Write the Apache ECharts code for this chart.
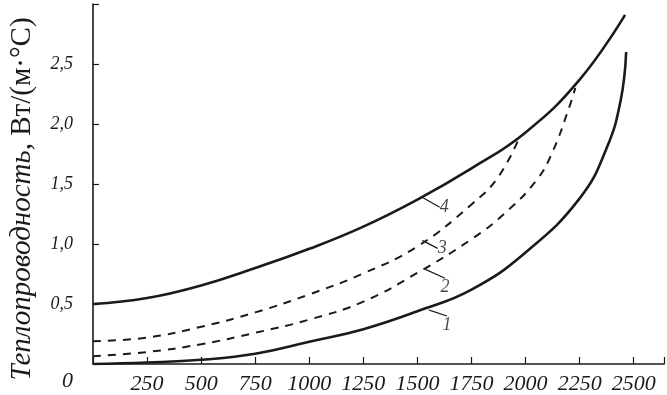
<!DOCTYPE html>
<html>
<head>
<meta charset="utf-8">
<script src="https://cdn.jsdelivr.net/npm/echarts@6/dist/echarts.min.js"></script>
<style>
  html, body { margin: 0; padding: 0; background: #fff; }
  #chart { width: 667px; height: 395px; }
</style>
</head>
<body>
<div id="chart"></div>
<script>
// температура, °C и теплопроводность, Вт/(м·°С) для кривых 1-4
var temp1 = [0, 250, 500, 750, 1000, 1250, 1500, 1750, 2000, 2250, 2375, 2440, 2465];
var cond1 = [0.0, 0.012, 0.035, 0.085, 0.185, 0.29, 0.44, 0.62, 0.93, 1.38, 1.80, 2.20, 2.60];

var temp2 = [0, 250, 500, 750, 1000, 1250, 1500, 1750, 1900, 2050, 2125, 2200, 2230];
var cond2 = [0.065, 0.10, 0.165, 0.26, 0.37, 0.52, 0.76, 1.04, 1.25, 1.53, 1.77, 2.13, 2.30];

var temp3 = [0, 250, 500, 750, 1000, 1250, 1500, 1750, 1870, 1967];
var cond3 = [0.19, 0.22, 0.31, 0.43, 0.58, 0.755, 0.98, 1.33, 1.55, 1.87];

var temp4 = [0, 250, 500, 750, 1000, 1250, 1500, 1750, 2000, 2250, 2460];
var cond4 = [0.50, 0.55, 0.655, 0.80, 0.96, 1.145, 1.37, 1.63, 1.93, 2.37, 2.91];

// подписи кривых и точки, куда указывают выноски
var curveNames = ['1', '2', '3', '4'];
var labelTemp = [1553, 1535, 1522, 1522];
var labelCond = [0.45, 0.79, 1.03, 1.39];

var xTicks = [250, 500, 750, 1000, 1250, 1500, 1750, 2000, 2250, 2500];
var yTicks = [0, 0.5, 1.0, 1.5, 2.0, 2.5];

var ink = '#1a1a1a';
var serif = '"Liberation Serif", "DejaVu Serif", serif';

function zip(xs, ys) {
  return xs.map(function(x, i) { return [x, ys[i]]; });
}

function curve(name, xs, ys, dashed) {
  return {
    name: name,
    type: 'line',
    data: zip(xs, ys),
    smooth: 0.45,
    showSymbol: false,
    symbol: 'none',
    silent: true,
    lineStyle: {
      color: ink,
      width: dashed ? 2 : 2.6,
      type: dashed ? [8, 7] : 'solid'
    }
  };
}

var labelOffsets = [[18, 15], [20, 18], [20, 8], [22, 10]];

var labelSeries = curveNames.map(function(n, i) {
  return {
    type: 'scatter',
    data: [[labelTemp[i], labelCond[i]]],
    symbolSize: 1,
    itemStyle: { color: ink },
    silent: true,
    label: {
      show: true,
      formatter: n,
      position: 'inside',
      fontFamily: serif,
      fontStyle: 'italic',
      fontSize: 18,
      color: ink
    },
    labelLayout: { dx: labelOffsets[i][0], dy: labelOffsets[i][1] },
    labelLine: { show: true, lineStyle: { color: ink, width: 1.2 } }
  };
});

var chart = echarts.init(document.getElementById('chart'));
chart.setOption({
  backgroundColor: '#fff',
  animation: false,
  grid: { left: 84, right: 0, top: 4, bottom: 27 },
  xAxis: {
    type: 'value',
    min: 0,
    max: 2640,
    interval: 250,
    splitLine: { show: false },
    axisLine: { lineStyle: { color: ink, width: 1.6 } },
    axisTick: { inside: true, length: 7, lineStyle: { color: ink, width: 1.2 } },
    axisLabel: {
      margin: 9,
      fontFamily: serif,
      fontStyle: 'italic',
      fontSize: 22,
      color: ink,
      formatter: function(v) {
        return xTicks.indexOf(v) >= 0 ? String(v) : '';
      }
    }
  },
  yAxis: {
    type: 'value',
    min: 0,
    max: 3.0,
    interval: 0.5,
    splitLine: { show: false },
    axisLine: { show: true, lineStyle: { color: ink, width: 1.6 } },
    axisTick: { show: true, inside: true, length: 6, lineStyle: { color: ink, width: 1.2 } },
    axisLabel: {
      margin: 20,
      fontFamily: serif,
      fontStyle: 'italic',
      fontSize: 18,
      color: ink,
      formatter: function(v) {
        if (v === 0) return '{zero|0}';
        if (yTicks.indexOf(v) < 0) return '';
        return v.toFixed(1).replace('.', ',');
      },
      rich: {
        zero: { fontFamily: serif, fontStyle: 'italic', fontSize: 22, color: ink, padding: [34, 0, 0, 0] }
      }
    },
    name: '{i|Теплопроводность, }{n|Вт/(м·°С)}',
    nameLocation: 'middle',
    nameGap: 56,
    nameTextStyle: {
      color: ink,
      padding: [0, 30, 0, 0],
      rich: {
        i: { fontFamily: serif, fontStyle: 'italic', fontSize: 29, color: ink },
        n: { fontFamily: serif, fontSize: 29, color: ink }
      }
    }
  },
  series: [
    curve('1', temp1, cond1, false),
    curve('2', temp2, cond2, true),
    curve('3', temp3, cond3, true),
    curve('4', temp4, cond4, false)
  ].concat(labelSeries)
});
</script>
</body>
</html>
